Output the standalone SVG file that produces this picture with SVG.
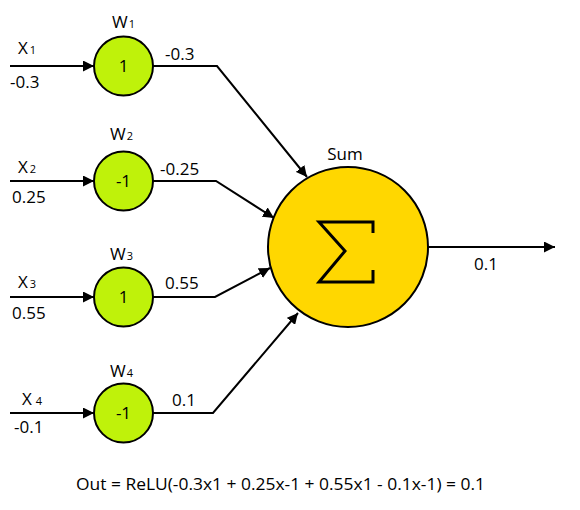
<svg xmlns="http://www.w3.org/2000/svg" width="580" height="510" viewBox="0 0 580 510">
<defs>
<marker id="ah" viewBox="0 0 10 10" refX="10" refY="5" markerWidth="11" markerHeight="11" markerUnits="userSpaceOnUse" orient="auto">
<path d="M0,0 L10,5 L0,10 z" fill="#000"/>
</marker>
<style>
text{font-family:"Open Sans","Liberation Sans",sans-serif;font-size:17px;fill:#000}
.sub{font-size:11px}
.w{fill:#BFF20A;stroke:#000;stroke-width:2}
.s{fill:#FFD700;stroke:#000;stroke-width:2}
.ln{fill:none;stroke:#000;stroke-width:2}
.ar{fill:none;stroke:#000;stroke-width:2;marker-end:url(#ah)}
.c{text-anchor:middle}
</style>
</defs>
<rect width="580" height="510" fill="#fff"/>
<g id="connectors">
<line class="ar" x1="10" y1="66" x2="94" y2="66"/>
<line class="ar" x1="10" y1="181" x2="94" y2="181"/>
<line class="ar" x1="10" y1="297" x2="94" y2="297"/>
<line class="ar" x1="10" y1="413" x2="94" y2="413"/>
<polyline class="ar" points="153,66 217,66 307,177"/>
<polyline class="ar" points="153,181 216,181 274,218"/>
<polyline class="ar" points="153,297 215,297 270,268"/>
<polyline class="ar" points="153,413 213,413 298,313"/>
<line class="ar" x1="428" y1="247" x2="555" y2="247"/>
</g>
<g id="x1"><text x="18" y="54">X<tspan class="sub" dx="2">1</tspan></text><text x="10" y="88">-0.3</text></g>
<g id="x2"><text x="18" y="173">X<tspan class="sub" dx="2">2</tspan></text><text x="12" y="203">0.25</text></g>
<g id="x3"><text x="18" y="288">X<tspan class="sub" dx="2">3</tspan></text><text x="12" y="319">0.55</text></g>
<g id="x4"><text x="22" y="405">X<tspan class="sub" dx="4">4</tspan></text><text x="14" y="433">-0.1</text></g>
<g id="w1"><text x="112" y="28">W<tspan class="sub" dx="1">1</tspan></text><circle class="w" cx="123.5" cy="66" r="29.5"/><text class="c" x="123.5" y="72">1</text><text x="165" y="60">-0.3</text></g>
<g id="w2"><text x="110" y="140">W<tspan class="sub" dx="1">2</tspan></text><circle class="w" cx="123.5" cy="181" r="29.5"/><text class="c" x="123.5" y="187">-1</text><text x="160" y="175">-0.25</text></g>
<g id="w3"><text x="110" y="260">W<tspan class="sub" dx="1">3</tspan></text><circle class="w" cx="123.5" cy="297" r="29.5"/><text class="c" x="123.5" y="303">1</text><text x="165" y="289">0.55</text></g>
<g id="w4"><text x="110" y="377">W<tspan class="sub" dx="1">4</tspan></text><circle class="w" cx="123.5" cy="413" r="29.5"/><text class="c" x="123.5" y="419">-1</text><text x="172" y="406">0.1</text></g>
<g id="sum">
<text class="c" x="345" y="160">Sum</text>
<circle class="s" cx="348" cy="247" r="80"/>
<path d="M373,233 L373,222 L319,222 L345,251 L319,282 L373,282 L373,270" fill="none" stroke="#000" stroke-width="3"/>
<text x="474" y="270">0.1</text>
</g>
<g id="formula"><text x="76" y="490" textLength="409" lengthAdjust="spacingAndGlyphs">Out = ReLU(-0.3x1 + 0.25x-1 + 0.55x1 - 0.1x-1) = 0.1</text></g>
</svg>
